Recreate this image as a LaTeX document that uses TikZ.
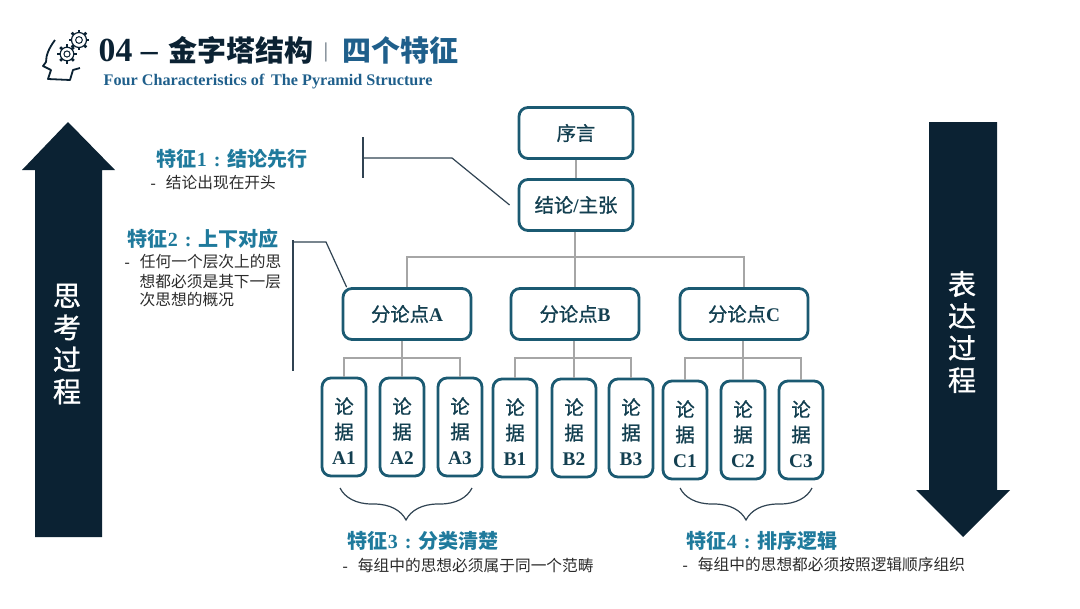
\documentclass[tikz,border=0pt]{standalone}
\usepackage{fontspec}
\setmainfont{Liberation Serif}
\newfontfamily\cjk{Noto Sans CJK SC}
\newfontfamily\cjkmid[FakeBold=1]{Noto Sans CJK SC}
\usetikzlibrary{decorations.pathreplacing}
\definecolor{navy}{HTML}{0B2233}
\definecolor{boxteal}{HTML}{1B5A72}
\definecolor{traitblue}{HTML}{1F7A9C}
\definecolor{titleblue}{HTML}{1F5F8B}
\definecolor{linkgray}{HTML}{A6A6A6}
\definecolor{notegray}{HTML}{2B2B2B}
\newcommand{\fs}[1]{\fontsize{#1}{#1}\selectfont}
\newcommand{\zh}[1]{{\mdseries\cjkmid #1}}
\newcommand{\wcolon}{\hspace{0.07cm}:\hspace{0.07cm}}
\tikzset{
    pointbox/.style={draw=boxteal,line width=0.028cm,rounded corners=0.09cm,minimum width=1.28cm,minimum height=0.51cm,inner sep=0pt,text=boxteal!70!black,font=\fs{5.5}\bfseries},
    leafbox/.style={pointbox,minimum width=0.44cm,minimum height=0.98cm,align=center},
    trait/.style={anchor=west,inner sep=0pt,text=traitblue,font=\fs{5.7}\bfseries},
    note/.style={anchor=west,inner sep=0pt,text=notegray,font=\fs{4.47}},
    link/.style={linkgray,line width=0.02cm},
    leader/.style={navy!85,line width=0.012cm},
    curly/.style={navy!85,line width=0.012cm,decorate,decoration={brace,mirror,amplitude=0.32cm}},
    flow/.style={inner sep=0pt,text=white,align=center,font=\fontsize{8}{9.1}\selectfont\cjkmid},
}
\begin{document}
\begin{tikzpicture}
    \useasboundingbox (0,0) rectangle (10.8,6.08);
    % arrows
    \fill[navy] (0.35,0.71)--(0.35,4.38)--(0.22,4.38)--(0.68,4.86)--(1.15,4.38)--(1.02,4.38)--(1.02,0.71)--cycle;
    \fill[navy] (9.29,4.86)--(9.29,1.18)--(9.16,1.18)--(9.63,0.71)--(10.10,1.18)--(9.97,1.18)--(9.97,4.86)--cycle;
    \node[flow] (think) at (0.67,2.64) {思\\考\\过\\程};
    \node[flow] (speak) at (9.62,2.76) {表\\达\\过\\程};
    % title
    \draw[navy,line width=0.018cm,line join=round] (0.55,5.68) .. controls (0.49,5.60) and (0.46,5.53) .. (0.46,5.46)
        -- (0.43,5.42) -- (0.51,5.38) -- (0.48,5.29) -- (0.70,5.28) -- (0.73,5.38) -- (0.80,5.40);
    \foreach \cx/\cy/\rad in {0.79/5.68/0.075,0.67/5.54/0.068} {
        \draw[navy,line width=0.012cm] (\cx,\cy) circle (\rad);
        \draw[navy,line width=0.010cm] (\cx,\cy) circle (0.45*\rad);
        \foreach \ang in {0,45,...,315}
            \draw[navy,line width=0.026cm] (\cx,\cy) ++(\ang:\rad) -- ++(\ang:0.028);
    }
    \node[anchor=west,inner sep=0pt,text=navy,font=\fs{9.6}\bfseries] (title) at (0.98,5.58) {04 – {\fs{8.25}\cjk\hspace{0.02cm}金字塔结构}};
    \node[inner sep=0pt,text=navy!70,font=\fs{6}] (bar) at (3.26,5.56) {|};
    \node[anchor=west,inner sep=0pt,text=titleblue,font=\fs{8.25}\cjk\bfseries] (titleb) at (3.42,5.58) {四个特征};
    \node[anchor=west,inner sep=0pt,text=titleblue,font=\fs{4.6}\bfseries] (subtitle) at (1.03,5.26) {Four Characteristics of\, The Pyramid Structure};
    % tree
    \node[pointbox,minimum width=1.14cm] (preface) at (5.76,4.75) {\zh{序言}};
    \node[pointbox,minimum width=1.14cm] (claim) at (5.76,4.03) {\zh{结论}/\zh{主张}};
    \node[pointbox] (ptA) at (4.07,2.94) {\zh{分论点}A};
    \node[pointbox] (ptB) at (5.75,2.94) {\zh{分论点}B};
    \node[pointbox] (ptC) at (7.44,2.94) {\zh{分论点}C};
    \foreach \grp/\num/\x/\y in {A/1/3.44/1.81,A/2/4.02/1.81,A/3/4.60/1.81,B/1/5.15/1.80,B/2/5.74/1.80,B/3/6.31/1.80,C/1/6.85/1.78,C/2/7.43/1.78,C/3/8.01/1.78}
        \node[leafbox] (leaf\grp\num) at (\x,\y) {\zh{论}\rule{0pt}{0.24cm}\\[0.06cm]\zh{据}\\[0.06cm]\grp\num};
    \coordinate (hubTop) at (5.75,3.51);
    \coordinate (hubA) at (4.02,2.50);
    \coordinate (hubB) at (5.74,2.50);
    \coordinate (hubC) at (7.43,2.50);
    \draw[link] (preface) -- (claim);
    \draw[link] (claim.south -| hubTop) -- (hubTop);
    \draw[link] (ptA.north) |- (hubTop) -| (ptC.north);
    \draw[link] (hubTop) -- (ptB.north);
    \foreach \grp in {A,B,C} {
        \draw[link] (pt\grp.south -| hub\grp) -- (leaf\grp2.north);
        \draw[link] (leaf\grp1.north) |- (hub\grp) -| (leaf\grp3.north);
    }
    % features
    \coordinate (barOneTop) at (3.63,4.71);
    \coordinate (barOneBot) at (3.63,4.30);
    \coordinate (barOneMid) at (3.63,4.50);
    \coordinate (bendOne) at (4.52,4.50);
    \coordinate (barTwoTop) at (2.93,3.68);
    \coordinate (barTwoBot) at (2.93,2.37);
    \coordinate (barTwoMid) at (2.93,3.66);
    \coordinate (bendTwo) at (3.26,3.66);
    \draw[leader] (barOneTop) -- (barOneBot);
    \draw[leader] (barOneMid) -- (bendOne) -- ([xshift=-0.08cm]claim.west);
    \draw[leader] (barTwoTop) -- (barTwoBot);
    \draw[leader] (barTwoMid) -- (bendTwo) -- ([xshift=0.05cm]ptA.north west);
    \node[trait] (traitOne) at (1.56,4.49) {{\cjk 特征}1\wcolon{\cjk 结论先行}};
    \node[note] (noteOne) at (1.50,4.25) {-\hspace{0.1cm}{\cjk 结论出现在开头}};
    \node[trait] (traitTwo) at (1.27,3.69) {{\cjk 特征}2\wcolon{\cjk 上下对应}};
    \node[note] (noteTwoa) at (1.24,3.46) {-\hspace{0.1cm}{\cjk 任何一个层次上的思}};
    \node[note] (noteTwob) at (1.39,3.26) {\cjk 想都必须是其下一层};
    \node[note] (noteTwoc) at (1.39,3.08) {\cjk 次思想的概况};
    \coordinate (braceAl) at (3.40,1.20);
    \coordinate (braceAr) at (4.72,1.20);
    \coordinate (braceCl) at (6.80,1.20);
    \coordinate (braceCr) at (8.12,1.20);
    \draw[curly] (braceAl) -- (braceAr);
    \draw[curly] (braceCl) -- (braceCr);
    \node[trait] (traitThree) at (3.47,0.67) {{\cjk 特征}3\wcolon{\cjk 分类清楚}};
    \node[note] (noteThree) at (3.42,0.43) {-\hspace{0.1cm}{\cjk 每组中的思想必须属于同一个范畴}};
    \node[trait] (traitFour) at (6.86,0.67) {{\cjk 特征}4\wcolon{\cjk 排序逻辑}};
    \node[note] (noteFour) at (6.82,0.43) {-\hspace{0.1cm}{\cjk 每组中的思想都必须按照逻辑顺序组织}};
\end{tikzpicture}
\end{document}
